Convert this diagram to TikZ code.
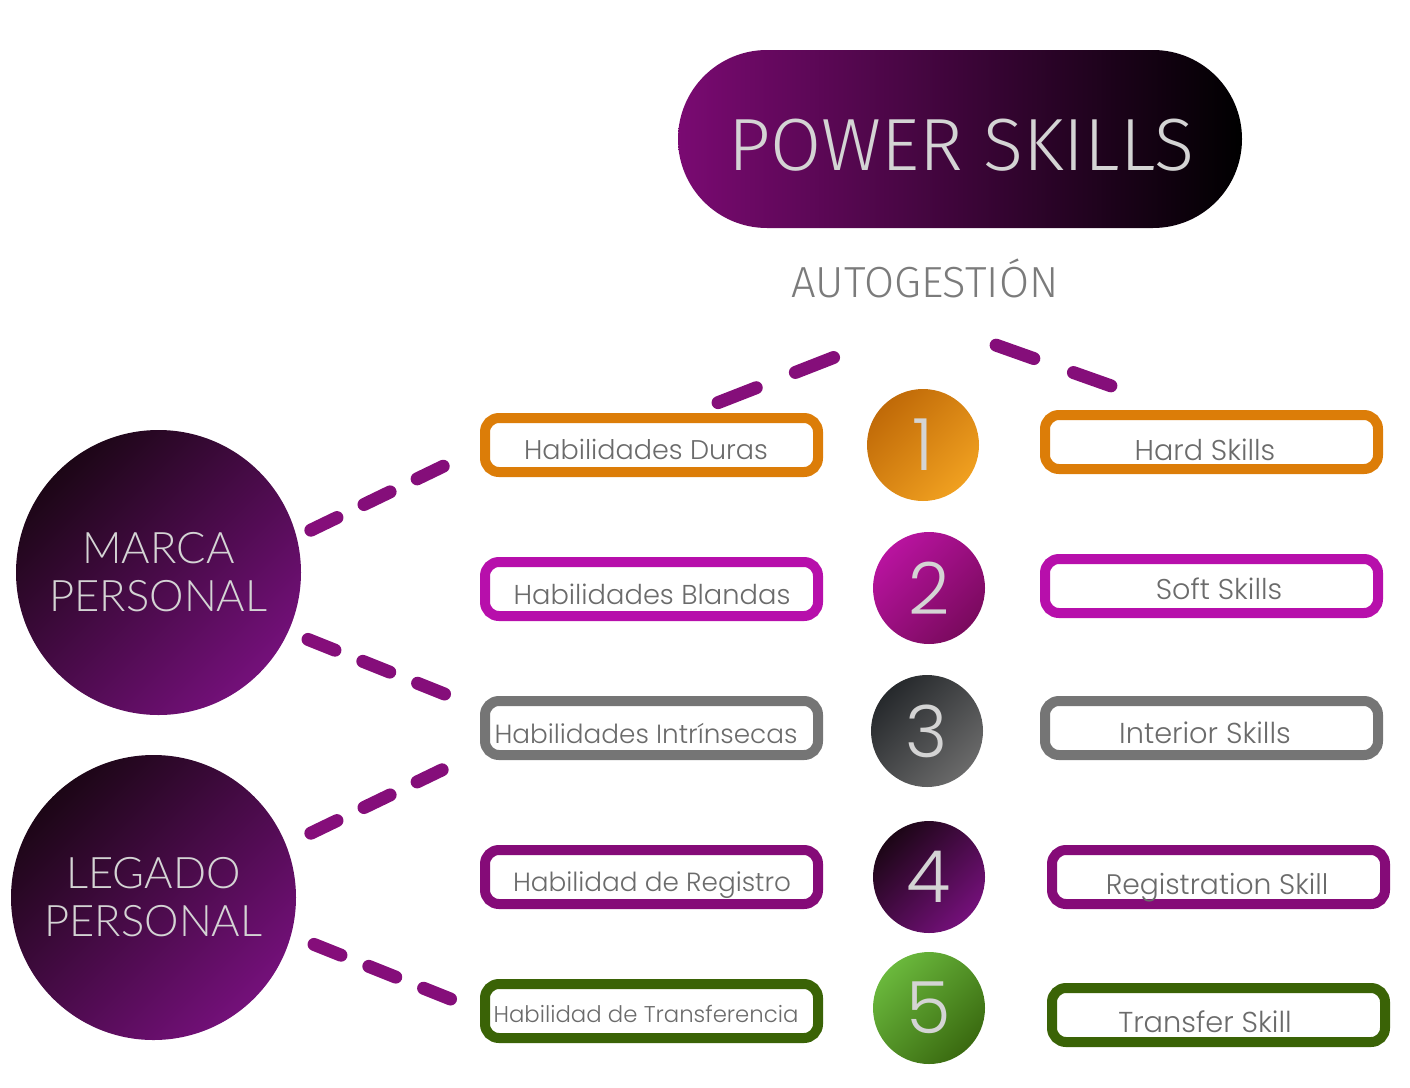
\documentclass[tikz,border=0pt]{standalone}
\usepackage{fontspec}
\newfontfamily\plexf{Fira Sans Light}
\newfontfamily\latof{Lato Light}
\newfontfamily\didf{Poppins Light}
\usetikzlibrary{shapes.misc}
\definecolor{pwl}{HTML}{7A0A72}
\definecolor{dashc}{HTML}{850E7A}
\definecolor{orangeb}{HTML}{DC7D08}
\definecolor{magb}{HTML}{B70FAB}
\definecolor{greyb}{HTML}{757575}
\definecolor{purpb}{HTML}{850B78}
\definecolor{greenb}{HTML}{3A6306}
\definecolor{txtg}{HTML}{6B6B6B}
\definecolor{lightt}{HTML}{D4D4D4}
\definecolor{autog}{HTML}{7B7B7B}
\definecolor{darkp}{HTML}{1C0616}
\definecolor{midp}{HTML}{74107A}
\definecolor{oa}{HTML}{C06A08}
\definecolor{ob}{HTML}{F0A020}
\definecolor{ma}{HTML}{B8139F}
\definecolor{mb}{HTML}{7A0A5E}
\definecolor{ga}{HTML}{26292C}
\definecolor{gb}{HTML}{6A6A6A}
\definecolor{gra}{HTML}{6AB83C}
\definecolor{grb}{HTML}{3A6A10}
\tikzset{
  skillbox/.style={draw=#1, line width=10pt, rounded corners=14pt, fill=white,
    minimum width=333pt, minimum height=54pt, inner sep=0pt},
  lbl/.style={anchor=base, inner sep=0pt, text=txtg, font=\didf\fontsize{#1}{30}\selectfont},
  numc/.style 2 args={circle, minimum size=112pt, inner sep=0pt, top color=#1, bottom color=#2,
    shading angle=45, text=lightt, font=\didf\fontsize{72}{72}\selectfont},
  bigc/.style={circle, minimum size=285pt, inner sep=0pt, top color=darkp, bottom color=midp,
    shading angle=45, text=lightt, align=center, font=\latof\fontsize{43.5}{48}\selectfont},
  conn/.style={draw=dashc, line width=13pt, line cap=round, shorten >=6.5pt, shorten <=6.5pt}
}
\begin{document}
\begin{tikzpicture}[x=1pt,y=-1pt]
\useasboundingbox (0,0) rectangle (1410,1087);
% title
\node[rounded rectangle, minimum width=564pt, minimum height=178pt, inner sep=0pt,
  left color=pwl, right color=black] (ps) at (960,139) {};
\node[text=lightt, font=\plexf\fontsize{74}{74}\selectfont, anchor=base, inner sep=0pt]
  (pst) at (961,170) {POWER SKILLS};
\node[text=autog, font=\plexf\fontsize{43.5}{43}\selectfont, anchor=base, inner sep=0pt]
  (auto) at (925,297) {AUTOGESTIÓN};
% big circles
\node[bigc] (mp) at (158.5,572.5) {MARCA\\PERSONAL};
\node[bigc] (lp) at (153.5,897.5) {LEGADO\\PERSONAL};
% left boxes
\node[skillbox=orangeb] (b1) at (651.5,445) {};
\node[skillbox=magb] (b2) at (651.5,589) {};
\node[skillbox=greyb] (b3) at (651.5,728) {};
\node[skillbox=purpb] (b4) at (651.5,877) {};
\node[skillbox=greenb] (b5) at (651.5,1011) {};
\node[lbl=27] (t1) at (646,459) {Habilidades Duras};
\node[lbl=27.3] (t2) at (652,604) {Habilidades Blandas};
\node[lbl=26.3] (t3) at (646,743) {Habilidades Intrínsecas};
\node[lbl=26.3] (t4) at (652,891) {Habilidad de Registro};
\node[lbl=22.8] (t5) at (646,1022) {Habilidad de Transferencia};
% right boxes
\node[skillbox=orangeb] (r1) at (1211.5,442) {};
\node[skillbox=magb] (r2) at (1211.5,586) {};
\node[skillbox=greyb] (r3) at (1211.5,728) {};
\node[skillbox=purpb] (r4) at (1218.5,877) {};
\node[skillbox=greenb] (r5) at (1218.5,1015) {};
\node[lbl=28.6] (s1) at (1205,460) {Hard Skills};
\node[lbl=28.6] (s2) at (1219,599) {Soft Skills};
\node[lbl=28.8] (s3) at (1205,743) {Interior Skills};
\node[lbl=28.2] (s4) at (1217,894) {Registration Skill};
\node[lbl=28.8] (s5) at (1205,1032) {Transfer Skill};
% number circles
\node[numc={oa}{ob}] (n1) at (923,445) {1};
\node[numc={ma}{mb}] (n2) at (929,588) {2};
\node[numc={ga}{gb}] (n3) at (927,731) {3};
\node[numc={darkp}{midp}] (n4) at (929,877) {4};
\node[numc={gra}{grb}] (n5) at (929,1008) {5};
% connector ends
\coordinate (ta) at (712,405); \coordinate (tb) at (840,355);
\coordinate (tc) at (990,343); \coordinate (td) at (1117,388);
\coordinate (m1) at (305,533); \coordinate (m2) at (452,462);
\coordinate (m3) at (302,637); \coordinate (m4) at (452,697);
\coordinate (l1) at (305,836); \coordinate (l2) at (448,767);
\coordinate (l3) at (308,942); \coordinate (l4) at (458,1002);
\draw[conn, dash pattern=on 41pt off 42pt] (ta) -- (tb);
\draw[conn, dash pattern=on 40pt off 42pt] (tc) -- (td);
\draw[conn, dash pattern=on 29pt off 30pt] (m1) -- (m2);
\draw[conn, dash pattern=on 29pt off 30pt] (m3) -- (m4);
\draw[conn, dash pattern=on 29pt off 30pt] (l1) -- (l2);
\draw[conn, dash pattern=on 29pt off 30pt] (l3) -- (l4);
\end{tikzpicture}
\end{document}
